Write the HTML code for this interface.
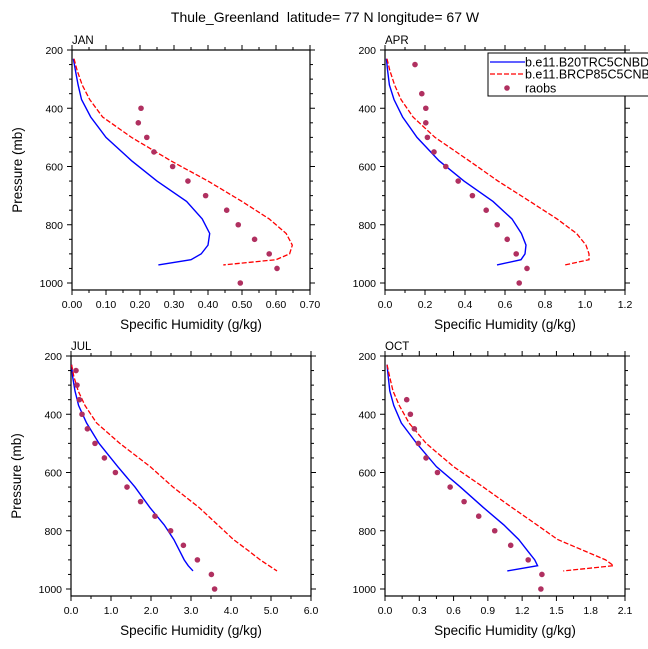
<!DOCTYPE html>
<html><head><meta charset="utf-8"><style>
body{margin:0;background:#fff;}
svg{display:block;font-family:"Liberation Sans",sans-serif;}
</style></head><body>
<svg id="chart" width="648" height="649" viewBox="0 0 648 649">
<text x="325" y="22" text-anchor="middle" font-size="14" style="white-space:pre">Thule_Greenland&#160; latitude= 77 N longitude= 67 W</text>
</svg>
<script>
const months = ["JAN","APR","JUL","OCT"];
const modelLevels = [230,270,320,370,430,500,580,650,720,780,830,870,900,920,938];
const blueJAN = [0.004,0.010,0.018,0.028,0.055,0.10,0.175,0.25,0.337,0.383,0.405,0.40,0.38,0.35,0.254];
const redJAN  = [0.006,0.015,0.030,0.052,0.090,0.175,0.29,0.40,0.50,0.58,0.63,0.648,0.64,0.60,0.445];
const blueAPR = [0.007,0.013,0.022,0.045,0.088,0.16,0.27,0.395,0.54,0.635,0.682,0.705,0.70,0.68,0.56];
const redAPR  = [0.01,0.024,0.048,0.08,0.14,0.25,0.42,0.565,0.725,0.86,0.958,1.005,1.02,1.02,0.90];
const blueJUL = [0.017,0.04,0.1,0.19,0.39,0.70,1.17,1.60,1.97,2.33,2.57,2.72,2.83,2.93,3.05];
const redJUL  = [0.015,0.07,0.18,0.35,0.64,1.22,1.98,2.55,3.20,3.67,4.06,4.45,4.73,4.95,5.15];
const blueOCT = [0.018,0.028,0.042,0.077,0.143,0.277,0.45,0.66,0.86,1.04,1.17,1.25,1.31,1.335,1.07];
const redOCT  = [0.018,0.04,0.07,0.125,0.21,0.36,0.60,0.86,1.11,1.33,1.51,1.75,1.93,2.0,1.56];
const obsLevJAN = [400,450,500,550,600,650,700,750,800,850,900,950,1000];
const obsJAN = [0.203,0.195,0.22,0.241,0.296,0.341,0.393,0.455,0.489,0.537,0.58,0.603,0.495];
const obsLevAPR = [250,350,400,450,500,550,600,650,700,750,800,850,900,950,1000];
const obsAPR = [0.15,0.184,0.204,0.204,0.212,0.245,0.304,0.366,0.437,0.506,0.561,0.611,0.656,0.71,0.671];
const obsLevJUL = [250,300,350,400,450,500,550,600,650,700,750,800,850,900,950,1000];
const obsJUL = [0.125,0.15,0.21,0.275,0.41,0.60,0.835,1.11,1.40,1.74,2.10,2.49,2.81,3.16,3.51,3.59];
const obsLevOCT = [350,400,450,500,550,600,650,700,750,800,850,900,950,1000];
const obsOCT = [0.19,0.222,0.257,0.292,0.359,0.459,0.57,0.692,0.82,0.96,1.10,1.253,1.373,1.364];
const xTicksJAN = ["0.00","0.10","0.20","0.30","0.40","0.50","0.60","0.70"];
const xTicksAPR = ["0.0","0.2","0.4","0.6","0.8","1.0","1.2"];
const xTicksJUL = ["0.0","1.0","2.0","3.0","4.0","5.0","6.0"];
const xTicksOCT = ["0.0","0.3","0.6","0.9","1.2","1.5","1.8","2.1"];
const yTicks = [200,400,600,800,1000];

const svg = document.getElementById('chart');
const NS = "http://www.w3.org/2000/svg";
function mk(tag, attrs, parent){const e=document.createElementNS(NS,tag);for(const k in attrs)e.setAttribute(k,attrs[k]);(parent||svg).appendChild(e);return e;}

const panels = [
 {m:"JAN",x0:72,x1:310,yt:50,blue:blueJAN,red:redJAN,ol:obsLevJAN,ov:obsJAN,xt:xTicksJAN,ytitle:true},
 {m:"APR",x0:385,x1:625,yt:50,blue:blueAPR,red:redAPR,ol:obsLevAPR,ov:obsAPR,xt:xTicksAPR,ytitle:false},
 {m:"JUL",x0:71,x1:311,yt:356,blue:blueJUL,red:redJUL,ol:obsLevJUL,ov:obsJUL,xt:xTicksJUL,ytitle:true},
 {m:"OCT",x0:385,x1:625,yt:356,blue:blueOCT,red:redOCT,ol:obsLevOCT,ov:obsOCT,xt:xTicksOCT,ytitle:false}
];
const pxPerMb = 233/800, pMax = 1024;

panels.forEach(P=>{
  const g = mk('g',{});
  
  
  const xMax = parseFloat(P.xt[P.xt.length-1]);
  const xs = v => P.x0 + v/xMax*(P.x1-P.x0);
  const ys = p => P.yt + (p-200)*pxPerMb;
  const yb = ys(pMax);
  const nMaj = P.xt.length-1;
  for(let i=0;i<=nMaj*2;i++){
    const v = xMax*i/(nMaj*2), x=xs(v), L = i%2===0?5:3;
    mk('line',{x1:x,y1:P.yt,x2:x,y2:P.yt-L,stroke:'#000','stroke-width':1},g);
    mk('line',{x1:x,y1:yb,x2:x,y2:yb+L,stroke:'#000','stroke-width':1},g);
  }
  P.xt.forEach((t,i)=>{
    const tx = mk('text',{x:xs(parseFloat(t)),y:yb+18,'text-anchor':'middle','font-size':10.5},g);
    tx.textContent=t;
    
    
  });
  for(let p=200;p<=1000;p+=50){
    const y=ys(p), L = p%200===0?5:3;
    mk('line',{x1:P.x0,y1:y,x2:P.x0-L,y2:y,stroke:'#000','stroke-width':1},g);
    mk('line',{x1:P.x1,y1:y,x2:P.x1+L,y2:y,stroke:'#000','stroke-width':1},g);
  }
  yTicks.forEach(p=>{
    const tx = mk('text',{x:P.x0-9,y:ys(p)+4,'text-anchor':'end','font-size':10.5},g);
    tx.textContent=p;
    
    
  });
  mk('rect',{x:P.x0,y:P.yt,width:P.x1-P.x0,height:yb-P.yt,fill:'none',stroke:'#000','stroke-width':1.2},g);
  const lab = mk('text',{x:P.x0,y:P.yt-6,'font-size':11.5},g);
  lab.textContent=P.m;
  
  
  const xt = mk('text',{x:(P.x0+P.x1)/2,y:yb+39,'text-anchor':'middle','font-size':13.5},g);
  xt.textContent='Specific Humidity (g/kg)';
  
  
  if(P.ytitle){
    const cy=(P.yt+yb)/2;
    const yt = mk('text',{x:P.x0-50,y:cy,'text-anchor':'middle','font-size':13.5,transform:`rotate(-90 ${P.x0-50} ${cy})`},g);
    yt.textContent='Pressure (mb)';
    
    
  }
  const bl = mk('polyline',{points:P.blue.map((v,i)=>xs(v)+','+ys(modelLevels[i])).join(' '),fill:'none',stroke:'#0000ff','stroke-width':1.4},g);
  
  
  const rl = mk('polyline',{points:P.red.map((v,i)=>xs(v)+','+ys(modelLevels[i])).join(' '),fill:'none',stroke:'#ff0000','stroke-width':1.3,'stroke-dasharray':'5,2'},g);
  
  
  P.ov.forEach((v,i)=>{
    const c = mk('circle',{cx:xs(v),cy:ys(P.ol[i]),r:2.8,fill:'#b03060'},g);
    
    
  });
});

const lg = mk('g',{});


mk('rect',{x:488,y:53,width:170,height:43,fill:'#fff',stroke:'#000','stroke-width':1},lg);
const entries=[["b.e11.B20TRC5CNBDRD","line","#0000ff",62],["b.e11.BRCP85C5CNBDRD","dash","#ff0000",74],["raobs","dot","#b03060",88]];
entries.forEach(e=>{
  const eg = mk('g',{},lg);
  
  
  if(e[1]==="dot") mk('circle',{cx:507,cy:e[3],r:2.8,fill:e[2]},eg);
  else mk('line',{x1:490,y1:e[3],x2:525,y2:e[3],stroke:e[2],'stroke-width':1.3,'stroke-dasharray':e[1]==="dash"?'5,2':'none'},eg);
  const t = mk('text',{x:525,y:e[3]+4.5,'font-size':12.5},eg);
  t.textContent=e[0];
});
</script>
</body></html>
